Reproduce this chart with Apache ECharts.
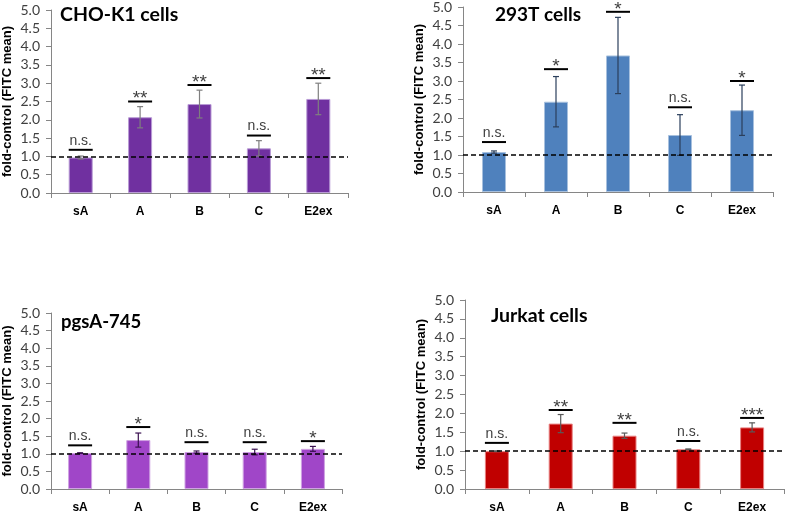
<!DOCTYPE html>
<html>
<head>
<meta charset="utf-8">
<script src="https://cdn.jsdelivr.net/npm/echarts@6/dist/echarts.min.js"></script>
<style>
html,body{margin:0;padding:0;background:#fff;}
#chart{width:785px;height:514px;}
</style>
</head>
<body>
<div id="chart"></div>
<script>
const categories = ['sA', 'A', 'B', 'C', 'E2ex'];
const yTickStep = 0.5;

const choTitle = 'CHO-K1 cells';
const choMean = [0.97, 2.07, 2.43, 1.22, 2.57];
const choErr = [0.04, 0.29, 0.38, 0.21, 0.43];
const choSig = ['n.s.', '**', '**', 'n.s.', '**'];
const choSigY = [1.18, 2.50, 2.95, 1.57, 3.14];

const t293Title = '293T cells';
const t293Mean = [1.08, 2.44, 3.69, 1.54, 2.21];
const t293Err = [0.03, 0.68, 1.03, 0.55, 0.68];
const t293Sig = ['n.s.', '*', '*', 'n.s.', '*'];
const t293SigY = [1.35, 3.32, 4.87, 2.29, 3.00];

const pgsTitle = 'pgsA-745';
const pgsMean = [1.02, 1.39, 1.05, 1.05, 1.14];
const pgsErr = [0.01, 0.20, 0.03, 0.08, 0.07];
const pgsSig = ['n.s.', '*', 'n.s.', 'n.s.', '*'];
const pgsSigY = [1.24, 1.76, 1.33, 1.33, 1.36];

const jurTitle = 'Jurkat cells';
const jurMean = [1.00, 1.73, 1.41, 1.05, 1.63];
const jurErr = [0.01, 0.24, 0.07, 0.01, 0.12];
const jurSig = ['n.s.', '**', '**', 'n.s.', '***'];
const jurSigY = [1.22, 2.09, 1.75, 1.27, 1.88];

const refLine = 1.0;
const yAxisName = 'fold-control (FITC mean)';

const panels = [
  {title: choTitle, mean: choMean, err: choErr, sig: choSig, sigY: choSigY,
   grid: {left: 46, top: 10, width: 302, height: 183},
   color: '#7030A0', border: '#B99BD6', errColor: '#7F7F7F',
   titlePos: {left: 60, top: 5}, titleSize: 19.5},
  {title: t293Title, mean: t293Mean, err: t293Err, sig: t293Sig, sigY: t293SigY,
   grid: {left: 463, top: 5, width: 310, height: 187},
   color: '#4F81BD', border: '#A7C0DE', errColor: '#2B3F5C',
   titlePos: {left: 495, top: 5}, titleSize: 19},
  {title: pgsTitle, mean: pgsMean, err: pgsErr, sig: pgsSig, sigY: pgsSigY,
   grid: {left: 44, top: 313, width: 298, height: 179},
   color: '#A046C8', border: '#CFA3E3', errColor: '#3A1050',
   titlePos: {left: 61, top: 313}, titleSize: 18.5},
  {title: jurTitle, mean: jurMean, err: jurErr, sig: jurSig, sigY: jurSigY,
   grid: {left: 465, top: 300, width: 319, height: 191},
   color: '#C00000', border: '#E88080', errColor: '#595959',
   titlePos: {left: 491, top: 306}, titleSize: 19.5}
];

const chart = echarts.init(document.getElementById('chart'), null, {renderer: 'canvas'});

const grids = [], xAxes = [], yAxes = [], series = [], titles = [];

panels.forEach((p, k) => {
  grids.push(Object.assign({containLabel: false}, p.grid));
  titles.push({
    text: p.title, left: p.titlePos.left, top: p.titlePos.top, padding: 0,
    textStyle: {fontFamily: 'Lato', fontWeight: 'bold', fontSize: p.titleSize, color: '#000'}
  });
  xAxes.push({
    type: 'category', gridIndex: k, data: categories,
    axisLine: {lineStyle: {color: '#868686', width: 1}},
    axisTick: {show: true, length: 5, lineStyle: {color: '#868686'}},
    axisLabel: {fontFamily: 'Liberation Sans', fontWeight: 'bold', fontSize: 12, color: '#000', margin: 13},
    splitLine: {show: false}
  });
  yAxes.push({
    type: 'value', gridIndex: k, min: 0, max: 5, interval: yTickStep,
    name: yAxisName, nameLocation: 'middle', nameRotate: 90, nameGap: 37,
    nameTextStyle: {fontFamily: 'Liberation Sans', fontWeight: 'bold', fontSize: 13, color: '#000'},
    axisLine: {show: true, lineStyle: {color: '#868686', width: 1}},
    axisTick: {show: true, length: 5, lineStyle: {color: '#868686'}},
    axisLabel: {fontFamily: 'Lato', fontSize: 14, color: '#404040', margin: 11,
      formatter: v => v.toFixed(1)},
    splitLine: {show: false}
  });
  series.push({
    type: 'bar', xAxisIndex: k, yAxisIndex: k, data: p.mean, barWidth: 24,
    itemStyle: {color: p.color, borderColor: p.border, borderWidth: 1},
    z: 2,
    markLine: {
      silent: true, symbol: 'none', label: {show: false},
      lineStyle: {color: '#000', type: [5, 3], width: 1.6},
      data: [{yAxis: refLine}], z: 5
    }
  });
  series.push({
    type: 'custom', xAxisIndex: k, yAxisIndex: k, z: 4, clip: false,
    data: p.mean.map((m, i) => [i, m, p.err[i]]),
    renderItem: (params, api) => {
      const i = api.value(0), m = api.value(1), e = api.value(2);
      const top = api.coord([i, m + e]);
      const bot = api.coord([i, m - e]);
      const st = {stroke: p.errColor, lineWidth: 1.2};
      return {type: 'group', children: [
        {type: 'line', shape: {x1: top[0], y1: top[1], x2: bot[0], y2: bot[1]}, style: st},
        {type: 'line', shape: {x1: top[0] - 3, y1: top[1], x2: top[0] + 3, y2: top[1]}, style: st},
        {type: 'line', shape: {x1: bot[0] - 3, y1: bot[1], x2: bot[0] + 3, y2: bot[1]}, style: st}
      ]};
    }
  });
  series.push({
    type: 'custom', xAxisIndex: k, yAxisIndex: k, z: 4, clip: false,
    data: p.sigY.map((s, i) => [i, s]),
    renderItem: (params, api) => {
      const i = api.value(0), s = api.value(1);
      const c = api.coord([i, s]);
      const lab = p.sig[params.dataIndex];
      const isNs = lab === 'n.s.';
      return {type: 'group', children: [
        {type: 'line', shape: {x1: c[0] - 12, y1: c[1], x2: c[0] + 12, y2: c[1]},
         style: {stroke: '#000', lineWidth: 2}},
        {type: 'text', x: c[0], y: isNs ? c[1] - 2 : c[1] + 7,
         style: {text: lab, fill: '#404040', align: 'center', verticalAlign: 'bottom',
           font: (isNs ? '14px' : '19px') + ' "Liberation Sans"'}}
      ]};
    }
  });
});

chart.setOption({
  animation: false,
  title: titles,
  grid: grids,
  xAxis: xAxes,
  yAxis: yAxes,
  series: series
});
</script>
</body>
</html>
